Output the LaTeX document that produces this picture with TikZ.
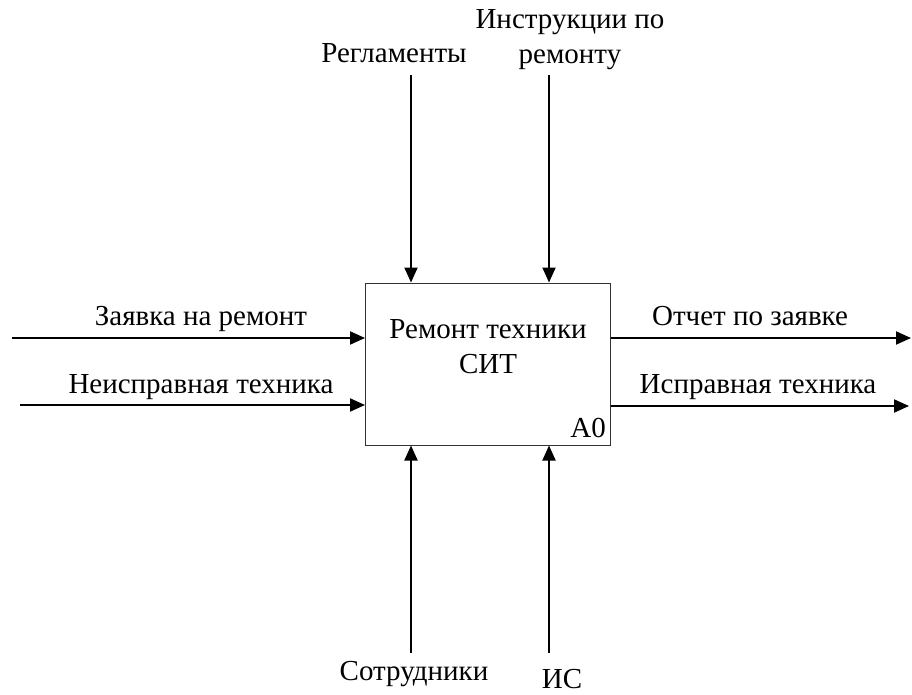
\documentclass[tikz,border=0pt]{standalone}
\usepackage{fontspec}
\setmainfont{Liberation Serif}
\usetikzlibrary{arrows.meta}

\begin{document}
\begin{tikzpicture}[
  x=1pt,
  y=-1pt,
  every node/.style={font=\fontsize{29}{35}\selectfont, inner sep=0pt},
  flow/.style={line width=2pt, -{Triangle[length=15pt, width=13pt]}},
  func/.style={draw=black!80, line width=1pt, minimum width=245pt, minimum height=162pt},
  lbl/.style={anchor=base}
]
  \useasboundingbox (0,0) rectangle (912,695);

  % ---- the function block ----------------------------------------------
  \node[func] (a0) at (488,364) {};
  % base of a two-line node is the baseline of its last line
  \node[lbl, align=center] (title) at (488,373) {Ремонт техники\\СИТ};
  \node[anchor=base east] (code) at (606,437) {А0};

  % ---- free ends of the arrows -----------------------------------------
  \coordinate (in1) at (12,338);
  \coordinate (in2) at (20,405);
  \coordinate (out1) at (911,338);
  \coordinate (out2) at (909,406);
  \coordinate (ctl1) at (411,75);
  \coordinate (ctl2) at (549,75);
  \coordinate (mech1) at (411,653);
  \coordinate (mech2) at (549,653);

  % ---- inputs ----------------------------------------------------------
  \draw[flow] (in1) -- (in1 -| a0.west);
  \draw[flow] (in2) -- (in2 -| a0.west);
  \node[lbl] (request) at (201,325) {Заявка на ремонт};
  \node[lbl] (broken) at (201,393) {Неисправная техника};

  % ---- outputs ---------------------------------------------------------
  \draw[flow] (out1 -| a0.east) -- (out1);
  \draw[flow] (out2 -| a0.east) -- (out2);
  \node[lbl] (report) at (750,325) {Отчет по заявке};
  \node[lbl] (fixed) at (758,393) {Исправная техника};

  % ---- controls --------------------------------------------------------
  \draw[flow] (ctl1) -- (ctl1 |- a0.north);
  \draw[flow] (ctl2) -- (ctl2 |- a0.north);
  \node[lbl] (rules) at (394,63) {Регламенты};
  \node[lbl, align=center] (manuals) at (570,64) {Инструкции по\\ремонту};

  % ---- mechanisms ------------------------------------------------------
  \draw[flow] (mech1) -- (mech1 |- a0.south);
  \draw[flow] (mech2) -- (mech2 |- a0.south);
  \node[lbl] (staff) at (414,680) {Сотрудники};
  \node[lbl] (is) at (562,688) {ИС};
\end{tikzpicture}
\end{document}
